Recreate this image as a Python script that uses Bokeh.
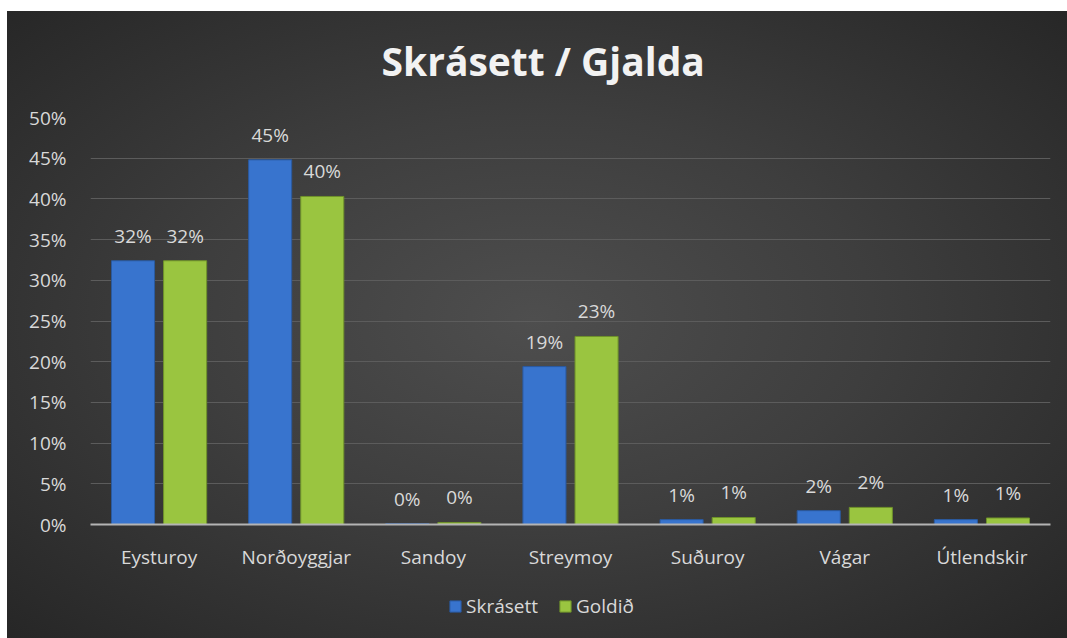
from bokeh.plotting import figure
from bokeh.layouts import column
from bokeh.models import (ColumnDataSource, Legend, LegendItem, NumeralTickFormatter,
                          LabelSet, FixedTicker, Range1d)
from bokeh.core.properties import value
from bokeh.transform import dodge
from bokeh.embed import file_html
from bokeh.resources import INLINE

categories = ["Eysturoy", "Norðoyggjar", "Sandoy", "Streymoy", "Suðuroy", "Vágar", "Útlendskir"]
skrasett = [0.324, 0.448, 0.0012, 0.194, 0.006, 0.017, 0.006]
goldid = [0.324, 0.403, 0.0025, 0.231, 0.0086, 0.021, 0.008]
series_names = ["Skrásett", "Goldið"]
y_ticks = [0, 0.05, 0.10, 0.15, 0.20, 0.25, 0.30, 0.35, 0.40, 0.45, 0.50]

BLUE = "#3874CE"
BLUE_EDGE = "#2A5AA0"
GREEN = "#9AC540"
GREEN_EDGE = "#6F922A"
TXT = "#D9D9D9"
FONT = "Open Sans"
FS = "19px"

src = ColumnDataSource(dict(
    cat=categories,
    s=skrasett,
    g=goldid,
    s_lab=[f"{v*100:.0f}%" for v in skrasett],
    g_lab=[f"{v*100:.0f}%" for v in goldid],
))

p = figure(x_range=categories, y_range=(0, 0.5), width=1067, height=578,
           output_backend="svg", toolbar_location=None,
           min_border_left=90, min_border_right=17, min_border_top=117, min_border_bottom=54,
           title="Skrásett / Gjalda")

p.border_fill_color = None
p.background_fill_color = None
p.outline_line_color = None

off = 0.19
w = 0.314
rb = p.vbar(x=dodge("cat", -off, range=p.x_range), top="s", width=w, source=src,
            fill_color=BLUE, line_color=BLUE_EDGE, line_width=1)
rg = p.vbar(x=dodge("cat", off, range=p.x_range), top="g", width=w, source=src,
            fill_color=GREEN, line_color=GREEN_EDGE, line_width=1)

lb = LabelSet(x=dodge("cat", -off, range=p.x_range), y="s", text="s_lab", source=src,
              text_align="center", text_baseline="bottom", y_offset=12,
              text_color=TXT, text_font=value(FONT), text_font_size=FS)
lg = LabelSet(x=dodge("cat", off, range=p.x_range), y="g", text="g_lab", source=src,
              text_align="center", text_baseline="bottom", y_offset=12,
              text_color=TXT, text_font=value(FONT), text_font_size=FS)
p.add_layout(lb)
p.add_layout(lg)

# title
p.title.text_color = "#F2F2F2"
p.title.text_font = FONT
p.title.text_font_size = "39px"
p.title.text_font_style = "bold"
p.title.align = "left"
p.title.offset = 291
p.title.standoff = 62

# y axis
p.yaxis.ticker = FixedTicker(ticks=y_ticks)
p.yaxis.formatter = NumeralTickFormatter(format="0%")
p.yaxis.axis_line_color = None
p.yaxis.major_tick_line_color = None
p.yaxis.minor_tick_line_color = None
p.yaxis.major_label_text_color = TXT
p.yaxis.major_label_text_font = FONT
p.yaxis.major_label_text_font_size = FS
p.yaxis.major_label_standoff = 18

# x axis
p.xaxis.axis_line_color = "#B4B4B4"
p.xaxis.axis_line_width = 2
p.xaxis.major_tick_line_color = None
p.xaxis.minor_tick_line_color = None
p.xaxis.major_label_text_color = TXT
p.xaxis.major_label_text_font = FONT
p.xaxis.major_label_text_font_size = FS
p.xaxis.major_label_standoff = 13

p.xgrid.grid_line_color = None
p.ygrid.grid_line_color = "#5C5C5C"
p.ygrid.grid_line_width = 1

# legend strip below the chart (same data, bars outside its visible range)
lf = figure(x_range=p.x_range, y_range=Range1d(1, 2), width=1067, height=60,
            output_backend="svg", toolbar_location=None,
            x_axis_location=None, y_axis_location=None,
            min_border_left=0, min_border_right=0, min_border_top=0, min_border_bottom=0)
lf.border_fill_color = None
lf.background_fill_color = None
lf.outline_line_color = None
lf.grid.visible = False
lrb = lf.vbar(x=dodge("cat", -off, range=lf.x_range), top="s", width=w, source=src,
              fill_color=BLUE, line_color=BLUE_EDGE, line_width=1)
lrg = lf.vbar(x=dodge("cat", off, range=lf.x_range), top="g", width=w, source=src,
              fill_color=GREEN, line_color=GREEN_EDGE, line_width=1)

legend = Legend(items=[LegendItem(label=series_names[0], renderers=[lrb]),
                       LegendItem(label=series_names[1], renderers=[lrg])],
                orientation="horizontal", location=(348, 9))
legend.background_fill_alpha = 0
legend.border_line_alpha = 0
legend.label_text_color = TXT
legend.label_text_font = FONT
legend.label_text_font_size = FS
legend.glyph_width = 14
legend.glyph_height = 14
legend.label_standoff = 4
legend.spacing = 20
legend.padding = 10
legend.margin = 0
lf.add_layout(legend, "center")

layout = column(p, lf, spacing=0)
layout.styles = {
    "background": ("linear-gradient(#ffffff, #ffffff) top left / 100% 11px no-repeat, "
                   "linear-gradient(#ffffff, #ffffff) top left / 7px 100% no-repeat, "
                   "radial-gradient(ellipse farthest-corner at 50% 50%, "
                   "#4E4E4E 0%, #3E3E3E 45%, #262626 100%)"),
}

open("out.html", "w").write(file_html(layout, INLINE))
